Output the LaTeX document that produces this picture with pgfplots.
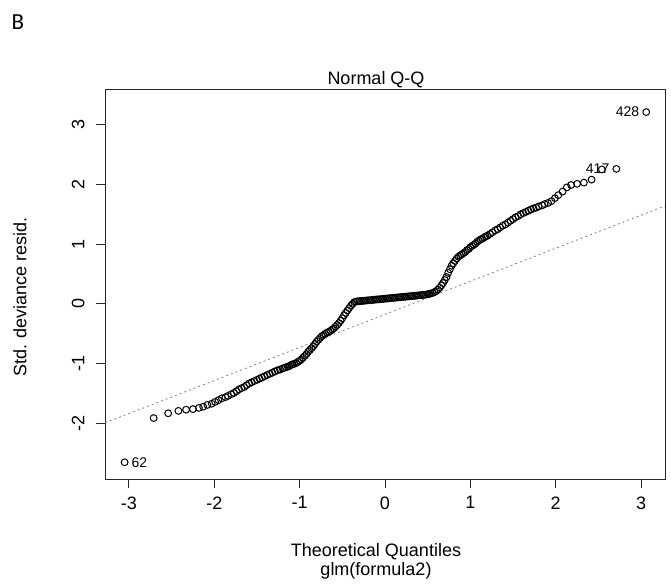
\documentclass[border=0pt]{standalone}
\usepackage{fontspec}
\setmainfont{Liberation Sans}
\newfontfamily\calibri{Carlito}
\usepackage{pgfplots}
\pgfplotsset{compat=1.18}
\pgfplotstableread{
x y
-3.05 -2.65
-2.71 -1.91
-2.54 -1.83
-2.42 -1.79
-2.33 -1.77
-2.25 -1.76
-2.18 -1.74
-2.13 -1.72
-2.08 -1.69
-2.03 -1.67
-1.99 -1.64
-1.95 -1.61
-1.91 -1.58
-1.87 -1.56
-1.84 -1.54
-1.80 -1.51
-1.77 -1.49
-1.74 -1.46
-1.71 -1.43
-1.68 -1.41
-1.65 -1.39
-1.62 -1.36
-1.59 -1.33
-1.56 -1.31
-1.53 -1.29
-1.50 -1.27
-1.47 -1.25
-1.44 -1.23
-1.41 -1.21
-1.38 -1.19
-1.35 -1.17
-1.32 -1.15
-1.29 -1.13
-1.26 -1.11
-1.23 -1.10
-1.20 -1.08
-1.18 -1.07
-1.16 -1.06
-1.14 -1.05
-1.12 -1.04
-1.10 -1.02
-1.08 -1.01
-1.06 -1.00
-1.04 -0.99
-1.02 -0.97
-1.00 -0.95
-0.98 -0.93
-0.96 -0.90
-0.94 -0.87
-0.92 -0.84
-0.90 -0.80
-0.88 -0.77
-0.86 -0.74
-0.84 -0.71
-0.82 -0.67
-0.80 -0.63
-0.78 -0.60
-0.76 -0.57
-0.74 -0.54
-0.72 -0.52
-0.70 -0.50
-0.68 -0.48
-0.66 -0.47
-0.64 -0.45
-0.62 -0.43
-0.60 -0.41
-0.58 -0.38
-0.56 -0.35
-0.54 -0.32
-0.52 -0.28
-0.50 -0.24
-0.48 -0.19
-0.46 -0.15
-0.44 -0.11
-0.42 -0.07
-0.40 -0.03
-0.38 0.00
-0.36 0.03
-0.34 0.04
-0.32 0.043
-0.30 0.046
-0.28 0.048
-0.26 0.051
-0.24 0.054
-0.22 0.057
-0.20 0.060
-0.18 0.062
-0.16 0.065
-0.14 0.068
-0.12 0.071
-0.10 0.074
-0.08 0.076
-0.06 0.079
-0.04 0.082
-0.02 0.085
0.00 0.088
0.02 0.090
0.04 0.093
0.06 0.096
0.08 0.099
0.10 0.102
0.12 0.104
0.14 0.107
0.16 0.110
0.18 0.113
0.20 0.116
0.22 0.118
0.24 0.121
0.26 0.124
0.28 0.127
0.30 0.130
0.32 0.132
0.34 0.135
0.36 0.138
0.38 0.141
0.40 0.144
0.42 0.147
0.44 0.150
0.46 0.153
0.48 0.157
0.50 0.162
0.52 0.168
0.54 0.176
0.56 0.186
0.58 0.198
0.60 0.215
0.62 0.24
0.64 0.27
0.66 0.31
0.68 0.35
0.70 0.40
0.72 0.45
0.74 0.52
0.76 0.58
0.78 0.64
0.80 0.68
0.82 0.72
0.84 0.76
0.86 0.79
0.88 0.81
0.90 0.83
0.92 0.85
0.94 0.87
0.96 0.90
0.98 0.92
1.00 0.95
1.02 0.97
1.04 0.99
1.06 1.01
1.08 1.04
1.10 1.06
1.12 1.08
1.14 1.09
1.16 1.11
1.18 1.13
1.20 1.14
1.23 1.17
1.26 1.20
1.29 1.23
1.32 1.25
1.35 1.28
1.38 1.31
1.41 1.33
1.44 1.36
1.47 1.39
1.50 1.42
1.53 1.45
1.56 1.47
1.59 1.50
1.62 1.52
1.65 1.54
1.68 1.56
1.71 1.58
1.74 1.60
1.77 1.61
1.80 1.63
1.84 1.65
1.87 1.67
1.91 1.69
1.95 1.72
1.99 1.77
2.03 1.82
2.08 1.88
2.13 1.95
2.18 1.99
2.25 2.01
2.33 2.03
2.42 2.08
2.54 2.25
2.71 2.26
3.06 3.21
}\qqdata
\begin{document}
\begin{tikzpicture}[x=1pt,y=1pt]
\useasboundingbox (0,0) rectangle (671,587);
\begin{axis}[
  at={(105pt,108pt)}, anchor=south west,
  width=560pt, height=389pt, scale only axis,
  xmin=-3.28, xmax=3.28, ymin=-2.93, ymax=3.58,
  axis line style={line width=1pt, black!85},
  xtick={-3,-2,-1,0,1,2,3}, ytick={-2,-1,0,1,2,3},
  xticklabels={-3,-2,-1,0,1,2,3}, yticklabels={-2,-1,0,1,2,3},
  xtick pos=left, ytick pos=left,
  tick align=outside,
  major tick length=9pt,
  tick style={line width=1pt, black!85},
  ticklabel style={font=\fontsize{18}{21}\selectfont},
  yticklabel style={rotate=90, anchor=south},
  xticklabel style={anchor=north},
  xticklabel shift=5pt,
  yticklabel shift=8pt,
]
\addplot[gray, dash pattern=on 2pt off 3pt, line width=0.8pt] coordinates {(-3.28,-1.99) (3.28,1.64)};
\addplot[only marks, mark=o, mark size=3.4pt, mark options={line width=1pt, black}] table[x=x,y=y] {\qqdata};
\node[anchor=east, inner sep=0pt, font=\fontsize{14}{16}\selectfont] at (axis cs:2.98,3.21) {428};
\node[anchor=east, inner sep=0pt, font=\fontsize{14}{16}\selectfont] at (axis cs:2.63,2.27) {417};
\node[anchor=west, inner sep=0pt, font=\fontsize{14}{16}\selectfont] at (axis cs:-2.97,-2.66) {62};
\end{axis}
\node[font=\calibri\fontsize{23}{25}\selectfont] at (18,565) {B};
\node[font=\fontsize{18}{21}\selectfont] at (376,507) {Normal Q-Q};
\node[font=\fontsize{18}{21}\selectfont] at (376,35) {Theoretical Quantiles};
\node[font=\fontsize{18}{21}\selectfont] at (376,16) {glm(formula2)};
\node[font=\fontsize{18}{21}\selectfont, rotate=90] at (20,290) {Std. deviance resid.};
\end{tikzpicture}
\end{document}
